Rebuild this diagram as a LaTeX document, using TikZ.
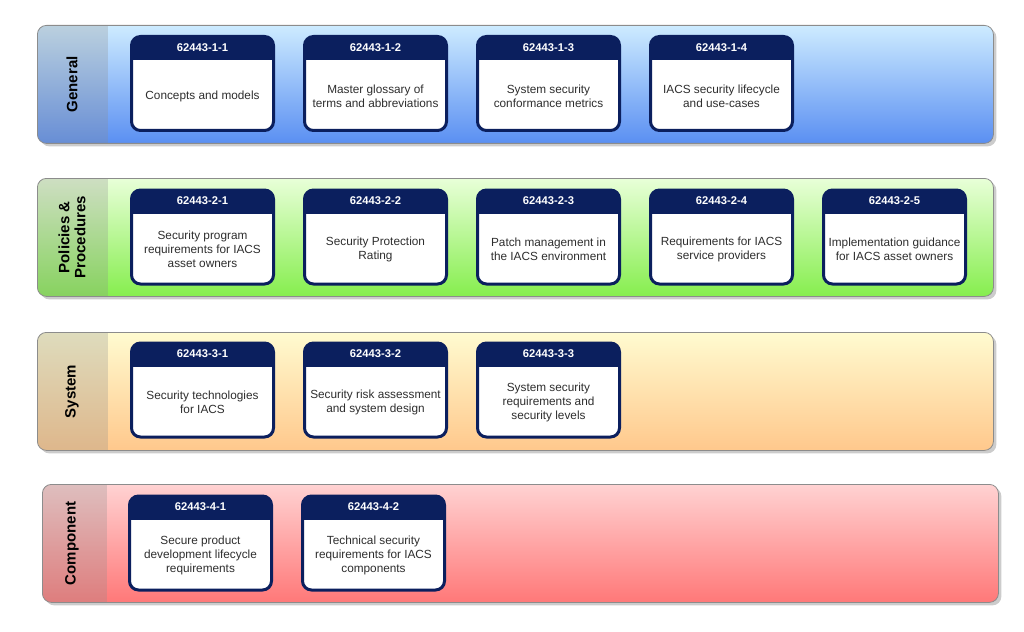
\documentclass[tikz,border=0pt]{standalone}
\usepackage{fontspec}
\setmainfont{Liberation Sans}
\usepackage{tikz}
\usetikzlibrary{positioning,shadows}
\definecolor{navy}{HTML}{0B1F5E}
\definecolor{txtc}{HTML}{2E2E2E}
\definecolor{rimc}{HTML}{8C8C8C}
\definecolor{genT}{HTML}{CDEBFF}
\definecolor{genB}{HTML}{5A8FF2}
\definecolor{polT}{HTML}{E8FFD8}
\definecolor{polB}{HTML}{86EE4E}
\definecolor{sysT}{HTML}{FFFBD0}
\definecolor{sysB}{HTML}{FFC88C}
\definecolor{cmpT}{HTML}{FFD2D2}
\definecolor{cmpB}{HTML}{FF7878}
\tikzset{
  % --- one band per part of the standard (top colour, bottom colour, strip width) ---
  band/.style n args={3}{draw=rimc,line width=0.8pt,rounded corners=9pt,
    top color=#1,bottom color=#2,minimum width=956pt,minimum height=118pt,
    anchor=north west,inner sep=0pt,
    drop shadow={shadow xshift=3pt,shadow yshift=-3pt,fill=black!40,opacity=.5},
    path picture={\fill[black!45,opacity=.28,sharp corners] (path picture bounding box.north west)
      rectangle ([xshift=#3]path picture bounding box.south west);}},
  bandlbl/.style={rotate=90,font=\fontsize{15}{16}\selectfont\bfseries,
    align=center,inner sep=0pt},
  % --- document card: navy header, white body ---
  card/.style={draw=navy,line width=3pt,rounded corners=9pt,fill=white,
    minimum width=142pt,minimum height=94pt,inner sep=0pt,
    path picture={\fill[navy,sharp corners] (path picture bounding box.north west)
      rectangle ([yshift=-23.5pt]path picture bounding box.north east);}},
  cardid/.style={text=white,font=\fontsize{11.2}{13}\selectfont\bfseries,inner sep=0pt},
  cardtx/.style={text=txtc,font=\fontsize{11.8}{14}\selectfont,align=center,inner sep=0pt},
}
\begin{document}
\begin{tikzpicture}[x=1pt,y=-1pt,node distance=28pt]
  \useasboundingbox (0,0) rectangle (1024,631);
  % bands
  \node[band={genT}{genB}{71pt}] (bgen) at (37,25) {};
  \node[band={polT}{polB}{71pt}] (bpol) at (37,178) {};
  \node[band={sysT}{sysB}{71pt}] (bsys) at (37,332) {};
  \node[band={cmpT}{cmpB}{65pt}] (bcmp) at (42,484) {};
  \node[bandlbl] (lgen) at ([xshift=35pt]bgen.west) {General};
  \node[bandlbl] (lpol) at ([xshift=35pt]bpol.west) {Policies \&\\Procedures};
  \node[bandlbl] (lsys) at ([xshift=35pt]bsys.west) {System};
  \node[bandlbl] (lcmp) at ([xshift=30pt]bcmp.west) {Component};
  % general
  \node[card] (c11) at (202.5,83.5) {};
  \node[card,right=of c11] (c12) {};
  \node[card,right=of c12] (c13) {};
  \node[card,right=of c13] (c14) {};
  \node[cardid] (h11) at ([yshift=-12.5pt]c11.north) {62443-1-1};
  \node[cardid] (h12) at ([yshift=-12.5pt]c12.north) {62443-1-2};
  \node[cardid] (h13) at ([yshift=-12.5pt]c13.north) {62443-1-3};
  \node[cardid] (h14) at ([yshift=-12.5pt]c14.north) {62443-1-4};
  \node[cardtx] (t11) at ([yshift=-12.5pt]c11.center) {Concepts and models};
  \node[cardtx] (t12) at ([yshift=-12.5pt]c12.center) {Master glossary of\\terms and abbreviations};
  \node[cardtx] (t13) at ([yshift=-12.5pt]c13.center) {System security\\conformance metrics};
  \node[cardtx] (t14) at ([yshift=-12.5pt]c14.center) {IACS security lifecycle\\and use-cases};
  % policies & procedures
  \node[card] (c21) at (202.5,237) {};
  \node[card,right=of c21] (c22) {};
  \node[card,right=of c22] (c23) {};
  \node[card,right=of c23] (c24) {};
  \node[card,right=of c24] (c25) {};
  \node[cardid] (h21) at ([yshift=-12.5pt]c21.north) {62443-2-1};
  \node[cardid] (h22) at ([yshift=-12.5pt]c22.north) {62443-2-2};
  \node[cardid] (h23) at ([yshift=-12.5pt]c23.north) {62443-2-3};
  \node[cardid] (h24) at ([yshift=-12.5pt]c24.north) {62443-2-4};
  \node[cardid] (h25) at ([yshift=-12.5pt]c25.north) {62443-2-5};
  \node[cardtx] (t21) at ([yshift=-12.5pt]c21.center) {Security program\\requirements for IACS\\asset owners};
  \node[cardtx] (t22) at ([yshift=-12.5pt]c22.center) {Security Protection\\Rating};
  \node[cardtx] (t23) at ([yshift=-12.5pt]c23.center) {Patch management in\\the IACS environment};
  \node[cardtx] (t24) at ([yshift=-12.5pt]c24.center) {Requirements for IACS\\service providers};
  \node[cardtx] (t25) at ([yshift=-12.5pt]c25.center) {Implementation guidance\\for IACS asset owners};
  % system
  \node[card] (c31) at (202.5,390) {};
  \node[card,right=of c31] (c32) {};
  \node[card,right=of c32] (c33) {};
  \node[cardid] (h31) at ([yshift=-12.5pt]c31.north) {62443-3-1};
  \node[cardid] (h32) at ([yshift=-12.5pt]c32.north) {62443-3-2};
  \node[cardid] (h33) at ([yshift=-12.5pt]c33.north) {62443-3-3};
  \node[cardtx] (t31) at ([yshift=-12.5pt]c31.center) {Security technologies\\for IACS};
  \node[cardtx] (t32) at ([yshift=-12.5pt]c32.center) {Security risk assessment\\and system design};
  \node[cardtx] (t33) at ([yshift=-12.5pt]c33.center) {System security\\requirements and\\security levels};
  % component
  \node[card] (c41) at (200.5,543) {};
  \node[card,right=of c41] (c42) {};
  \node[cardid] (h41) at ([yshift=-12.5pt]c41.north) {62443-4-1};
  \node[cardid] (h42) at ([yshift=-12.5pt]c42.north) {62443-4-2};
  \node[cardtx] (t41) at ([yshift=-12.5pt]c41.center) {Secure product\\development lifecycle\\requirements};
  \node[cardtx] (t42) at ([yshift=-12.5pt]c42.center) {Technical security\\requirements for IACS\\components};
\end{tikzpicture}
\end{document}
